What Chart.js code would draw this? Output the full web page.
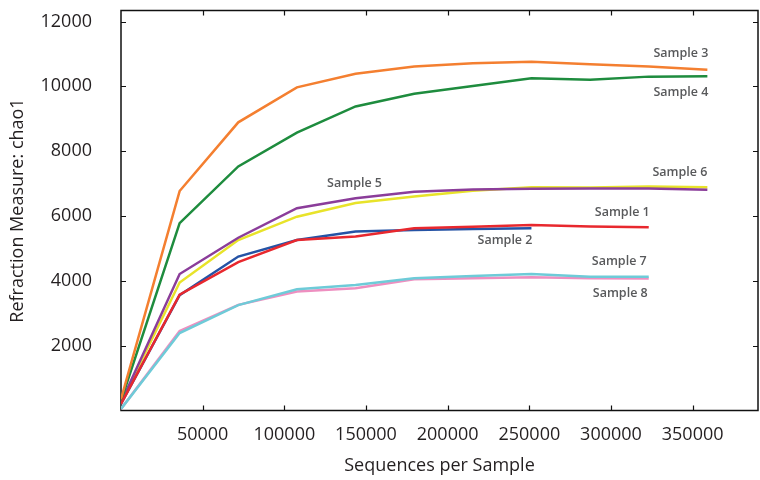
<!DOCTYPE html>
<html>
<head>
<meta charset="utf-8">
<script src="https://cdn.jsdelivr.net/npm/chart.js@4/dist/chart.umd.min.js"></script>
<style>
  html, body { margin: 0; padding: 0; background: #fff; }
  #wrap { width: 760px; height: 480px; }
</style>
</head>
<body>
<div id="wrap"><canvas id="rarefaction" width="760" height="480"></canvas></div>
<script>
// ===== DATA =====
const depths = [0, 35900, 71800, 107700, 143600, 179500, 215400, 251300, 287200, 323100, 359000];

const sample1 = [200, 3570, 4580, 5260, 5370, 5620, 5670, 5720, 5680, 5650];
const sample2 = [200, 3560, 4750, 5260, 5520, 5570, 5600, 5620];
const sample3 = [350, 6770, 8890, 9970, 10390, 10610, 10710, 10760, 10680, 10610, 10510];
const sample4 = [300, 5780, 7530, 8570, 9380, 9770, 10010, 10250, 10200, 10300, 10310];
const sample5 = [250, 4210, 5330, 6240, 6550, 6750, 6820, 6840, 6850, 6850, 6810];
const sample6 = [250, 3950, 5260, 5980, 6400, 6600, 6780, 6890, 6880, 6910, 6890];
const sample7 = [50, 2390, 3250, 3740, 3870, 4080, 4150, 4210, 4130, 4130];
const sample8 = [50, 2450, 3260, 3670, 3770, 4050, 4080, 4110, 4080, 4070];

const sampleNames = ["Sample 1", "Sample 2", "Sample 3", "Sample 4", "Sample 5", "Sample 6", "Sample 7", "Sample 8"];
const sampleValues = [sample1, sample2, sample3, sample4, sample5, sample6, sample7, sample8];

const xTicks = [50000, 100000, 150000, 200000, 250000, 300000, 350000];
const yTicks = [2000, 4000, 6000, 8000, 10000, 12000];

// ===== STYLES =====
const colors = ["#e8282e", "#2553a5", "#f47f30", "#1e8c3e", "#8b3d9a", "#e8e32a", "#6ecbd8", "#ee8fc0"];
// where each name sits, relative to a point of its line
const labelSpots = [
  { dx: 1, dy: -15, align: "right" },
  { dx: 1, dy: 12, align: "right" },
  { dx: 1, dy: -16, align: "right" },
  { dx: 1, dy: 16, align: "right" },
  { index: 4, dx: -1, dy: -15, align: "center" },
  { dx: 0, dy: -15, align: "right" },
  { dx: -2, dy: -15, align: "right" },
  { dx: -1, dy: 15, align: "right" }
];

const FONT = "'Open Sans', sans-serif";

// ===== PLUGINS =====
// box round the plot with inward tick marks on all four sides
const frameTicks = {
  id: "frameTicks",
  beforeDatasetsDraw(chart) {
    const { ctx, chartArea: a, scales: { x, y } } = chart;
    const len = 5;
    ctx.save();
    ctx.strokeStyle = "#111";
    ctx.lineWidth = 1.5;
    ctx.strokeRect(a.left, a.top, a.right - a.left, a.bottom - a.top);
    ctx.lineWidth = 1.2;
    ctx.beginPath();
    xTicks.forEach(v => {
      const px = Math.round(x.getPixelForValue(v)) + 0.5;
      ctx.moveTo(px, a.bottom); ctx.lineTo(px, a.bottom - len);
      ctx.moveTo(px, a.top); ctx.lineTo(px, a.top + len);
    });
    yTicks.forEach(v => {
      const py = Math.round(y.getPixelForValue(v)) + 0.5;
      ctx.moveTo(a.left, py); ctx.lineTo(a.left + len, py);
      ctx.moveTo(a.right, py); ctx.lineTo(a.right - len, py);
    });
    ctx.stroke();
    ctx.restore();
  }
};

// series names written beside the lines
const sampleLabels = {
  id: "sampleLabels",
  afterDatasetsDraw(chart) {
    const { ctx } = chart;
    ctx.save();
    ctx.font = "600 12.5px " + FONT;
    ctx.fillStyle = "#58595b";
    ctx.textBaseline = "middle";
    chart.data.datasets.forEach((ds, i) => {
      const spot = labelSpots[i];
      const pts = chart.getDatasetMeta(i).data;
      const pt = pts[spot.index ?? pts.length - 1];
      ctx.textAlign = spot.align;
      ctx.fillText(ds.label, pt.x + spot.dx, pt.y + spot.dy);
    });
    ctx.restore();
  }
};

// ===== CHART =====
const datasets = sampleNames.map((name, i) => ({
  label: name,
  data: sampleValues[i].map((v, j) => ({ x: depths[j], y: v })),
  borderColor: colors[i],
  backgroundColor: colors[i],
  borderWidth: 2.5,
  pointRadius: 0,
  tension: 0,
  fill: false
}));

new Chart(document.getElementById("rarefaction"), {
  type: "line",
  data: { datasets },
  options: {
    responsive: false,
    animation: false,
    layout: { padding: { top: 10.5, right: 2, left: 0, bottom: 0 } },
    plugins: {
      legend: { display: false },
      tooltip: { enabled: false }
    },
    scales: {
      x: {
        type: "linear",
        min: 0,
        max: 390000,
        grid: { display: false },
        border: { display: false },
        afterFit: s => { s.height = 69.5; },
        afterBuildTicks: s => { s.ticks = xTicks.map(v => ({ value: v })); },
        ticks: {
          autoSkip: false,
          maxRotation: 0,
          padding: 6,
          color: "#231f20",
          font: { family: FONT, size: 18 },
          callback: v => String(v)
        },
        title: {
          display: true,
          text: "Sequences per Sample",
          color: "#231f20",
          font: { family: FONT, size: 18 },
          padding: { top: 0, bottom: 3 }
        }
      },
      y: {
        min: 0,
        max: 12340,
        grid: { display: false },
        border: { display: false },
        afterFit: s => { s.width = 121; s.paddingTop = 0; s.paddingBottom = 0; },
        afterBuildTicks: s => { s.ticks = yTicks.map(v => ({ value: v })); },
        ticks: {
          padding: 21,
          color: "#231f20",
          font: { family: FONT, size: 18 },
          callback: v => String(v)
        },
        title: {
          display: true,
          text: "Refraction Measure: chao1",
          color: "#231f20",
          font: { family: FONT, size: 18 },
          padding: { top: 7, bottom: 0 }
        }
      }
    }
  },
  plugins: [frameTicks, sampleLabels]
});
</script>
</body>
</html>
